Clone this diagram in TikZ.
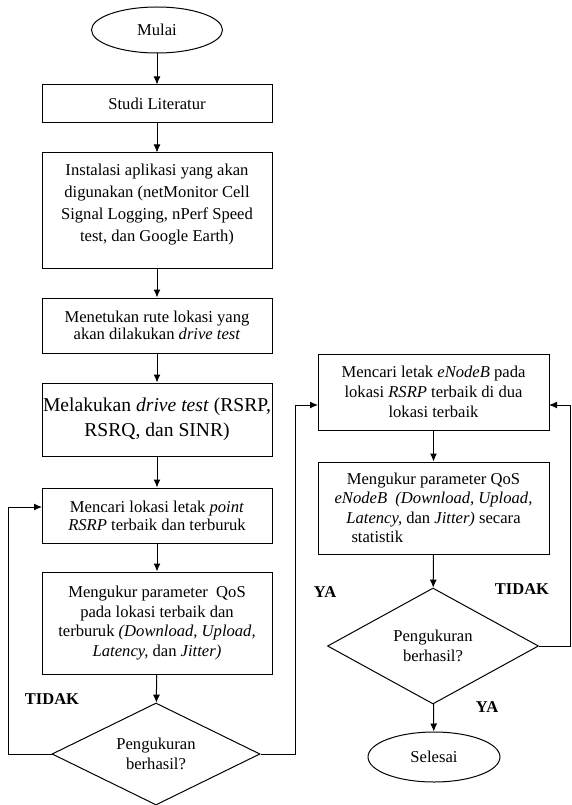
\documentclass[tikz,border=0pt]{standalone}
\usepackage{fontspec}
\setmainfont{Liberation Serif}
\usetikzlibrary{arrows.meta,shapes.geometric,calc}
\begin{document}
\begin{tikzpicture}[x=1pt,y=-1pt,
  every node/.style={font=\fontsize{16.6}{19.5}\selectfont, inner sep=2pt},
  procbox/.style={draw, line width=1pt, rectangle, minimum width=230pt, align=center},
  termbox/.style={draw, line width=1pt, ellipse, inner sep=0pt},
  decbox/.style={draw, line width=1pt, diamond, aspect=2, inner sep=0pt, minimum width=208pt, minimum height=102pt, align=center},
  lbl/.style={font=\fontsize{16.5}{18}\selectfont\bfseries},
  conn/.style={draw, line width=1pt, -{Latex[length=8pt,width=7pt]}},
  plainline/.style={draw, line width=1pt}]
\useasboundingbox (0,0) rectangle (571,805);

% left column
\node[termbox, minimum width=131pt, minimum height=46pt] (mulai) at (157,30) {Mulai};
\node[procbox, minimum height=38pt] (studi) at (157,104) {Studi Literatur};
\node[procbox, minimum height=115pt, font=\fontsize{16.6}{22}\selectfont] (inst) at (157,210.5) {Instalasi aplikasi yang akan\\ digunakan (netMonitor Cell\\ Signal Logging, nPerf Speed\\ test, dan Google Earth)\\[-6pt]};
\node[procbox, minimum height=55pt, font=\fontsize{16.6}{17}\selectfont] (menet) at (157,325.5) {Menetukan rute lokasi yang\\ akan dilakukan \textit{drive test}};
\node[procbox, minimum height=73pt, inner sep=0.5pt, font=\fontsize{19.6}{25}\selectfont] (melak) at (157,419.5) {Melakukan \textit{drive test} (RSRP,\\ RSRQ, dan SINR)};
\node[procbox, minimum height=55pt, font=\fontsize{16.6}{18}\selectfont] (cari) at (157,515.5) {Mencari lokasi letak \textit{point}\\ \textit{RSRP} terbaik dan terburuk};
\node[procbox, minimum height=102pt] (ukur) at (157,623) {Mengukur parameter\ \ QoS\\ pada lokasi terbaik dan\\ terburuk \textit{(Download, Upload,}\\ \textit{Latency,} dan \textit{Jitter)}};
\node[decbox] (dsatu) at (156,754) {Pengukuran\\ berhasil?};

% right column
\node[procbox, minimum width=231pt, minimum height=76pt, font=\fontsize{16.6}{20}\selectfont] (enb) at (433.5,392) {Mencari letak \textit{eNodeB} pada\\ lokasi \textit{RSRP} terbaik di dua\\ lokasi terbaik};
\node[procbox, minimum width=231pt, minimum height=92pt] (qos) at (433.5,508) {Mengukur parameter QoS\\ \textit{eNodeB}\ \ \textit{(Download, Upload,}\\ \textit{Latency,} dan \textit{Jitter)} secara\\ \makebox[176pt][l]{\hspace{6pt}statistik}};
\node[decbox, minimum width=211pt, minimum height=116pt] (ddua) at (433,646) {Pengukuran\\ berhasil?};
\node[termbox, minimum width=132pt, minimum height=50pt] (selesai) at (434,757) {Selesai};

% labels
\node[lbl] (t1) at (52,699) {TIDAK};
\node[lbl] (y1) at (325,592) {YA};
\node[lbl] (t2) at (522,589) {TIDAK};
\node[lbl] (y2) at (487,707) {YA};

% coordinates
\coordinate (lc) at (8,754);
\coordinate (lin) at (42,507);
\coordinate (rc) at (295,754);
\coordinate (rin) at (318,405);
\coordinate (ec) at (570,646);
\coordinate (ein) at (549,405);

% connectors
\path[conn] (mulai) -- (studi);
\path[conn] (studi) -- (inst);
\path[conn] (inst) -- (menet);
\path[conn] (menet) -- (melak);
\path[conn] (melak) -- (cari);
\path[conn] (cari) -- (ukur);
\path[conn] (ukur) -- (dsatu);
\path[conn] (dsatu.west) -- (lc) |- (lin);
\path[conn] (dsatu.east) -- (rc) |- (rin);
\path[conn] (enb) -- (qos);
\path[conn] (qos) -- (ddua);
\path[conn] (ddua) -- (selesai);
\path[conn] (ddua.east) -- (ec) |- (ein);
\end{tikzpicture}
\end{document}
